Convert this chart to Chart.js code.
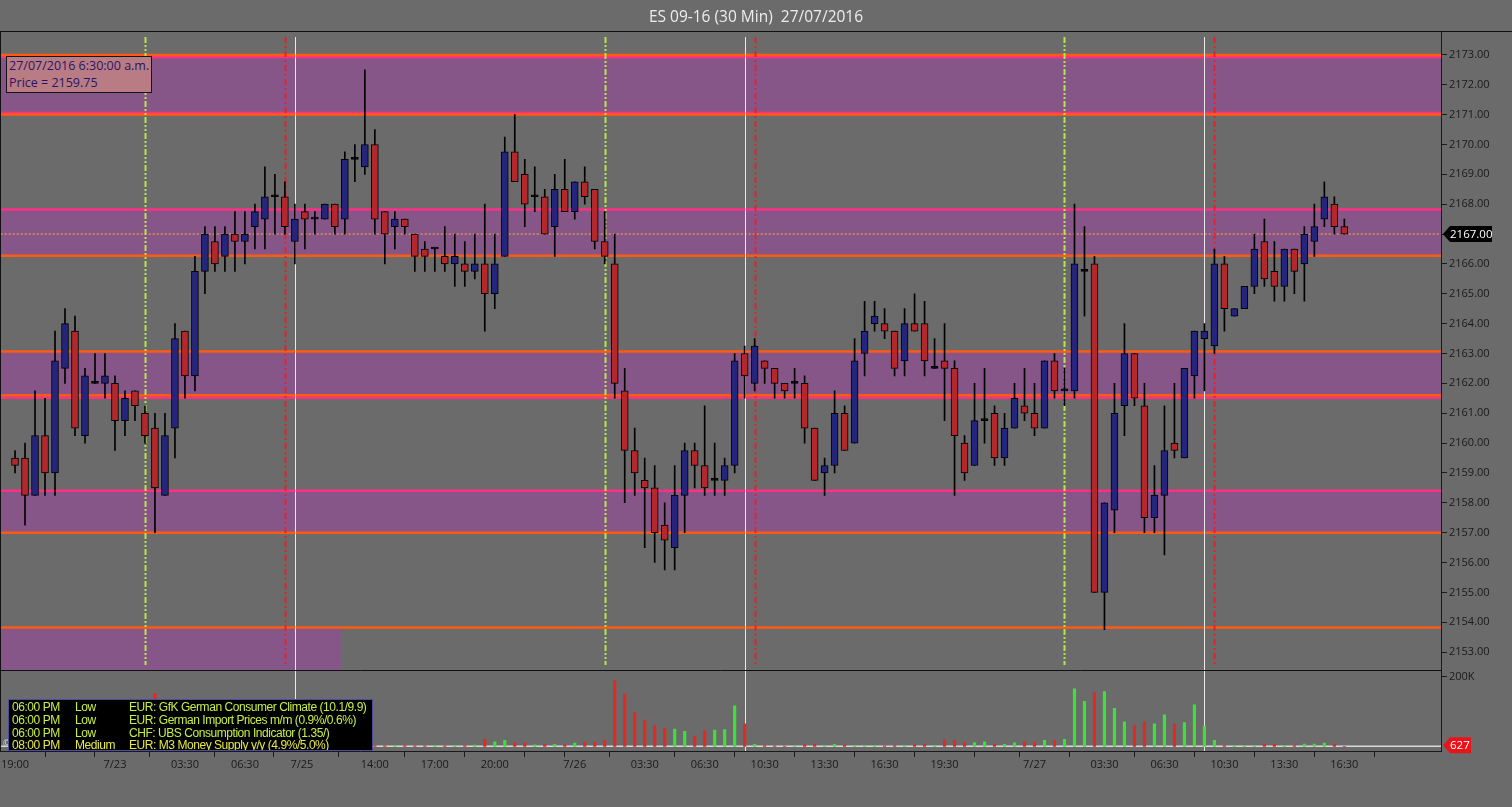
<!DOCTYPE html>
<html>
<head>
<meta charset="utf-8">
<title>ES 09-16 (30 Min) 27/07/2016</title>
<script src="https://cdn.jsdelivr.net/npm/chart.js@4.4.1/dist/chart.umd.min.js"></script>
<style>
    html, body { margin: 0; padding: 0; background: #6b6b6b; }
    #wrap { position: relative; width: 1512px; height: 807px; overflow: hidden; }
    #title {
        position: absolute; top: 5px; left: 0; width: 1512px; text-align: center;
        font: 15.5px "Open Sans", sans-serif; color: #ededed; white-space: pre;
    }
    #priceInfo {
        position: absolute; left: 6px; top: 56px; width: 146px; height: 37px; box-sizing: border-box;
        background: #b97b84; border: 1px solid #151515; color: #261766;
        font: 12.5px "Open Sans", sans-serif; line-height: 17px; padding: 0 0 0 2px; white-space: nowrap;
    }
    #events {
        position: absolute; left: 8px; top: 699px; width: 365px; height: 52px; box-sizing: border-box;
        background: #000; border: 1px solid #4b4ba0; overflow: hidden;
        font: 12px "Liberation Sans", Arial, sans-serif; color: #c8ee46; letter-spacing: -0.45px;
    }
    #events div { position: relative; height: 12.8px; line-height: 13px; white-space: nowrap; }
    #events span { position: absolute; top: 1px; }
    #events .t { left: 3px; } #events .i { left: 66px; } #events .e { left: 120px; }
    #copy { position: absolute; left: 2px; top: 738px; font: 10px "DejaVu Sans"; color: #cfcfcf; }
</style>
</head>
<body>
<div id="wrap">
    <canvas id="esChart" width="1512" height="807"></canvas>
    <div id="title">ES 09-16 (30 Min)  27/07/2016</div>
    <div id="priceInfo">27/07/2016 6:30:00 a.m.<br>Price = 2159.75</div>
    <span id="copy">©</span>
    <div id="events">
        <div><span class="t">06:00 PM</span><span class="i">Low</span><span class="e">EUR: GfK German Consumer Climate (10.1/9.9)</span></div>
        <div><span class="t">06:00 PM</span><span class="i">Low</span><span class="e">EUR: German Import Prices m/m (0.9%/0.6%)</span></div>
        <div><span class="t">06:00 PM</span><span class="i">Low</span><span class="e">CHF: UBS Consumption Indicator (1.35/)</span></div>
        <div style="color:#e6e84a"><span class="t">08:00 PM</span><span class="i">Medium</span><span class="e">EUR: M3 Money Supply y/y (4.9%/5.0%)</span></div>
    </div>
</div>
<script>
// 30 min bars, 22/07 19:00 -> 27/07 16:30
const opens = [
    2159.5, 2159.5, 2158.25, 2160.25, 2159.0, 2162.5, 2163.75, 2160.25, 2162.0, 2162.0,
    2162.0, 2160.75, 2161.75, 2161.0, 2160.5, 2158.25, 2160.5, 2163.75, 2162.25, 2165.75,
    2166.75, 2166.25, 2167.0, 2166.75, 2167.25, 2167.5, 2168.25, 2168.25, 2166.75, 2167.75,
    2167.5, 2167.5, 2168.0, 2167.5, 2169.5, 2169.25, 2170.0, 2167.75, 2167.25, 2167.5,
    2167.0, 2166.5, 2166.5, 2166.25, 2166.0, 2166.0, 2165.75, 2166.0, 2165.0, 2166.25,
    2169.75, 2169.0, 2168.25, 2168.25, 2167.25, 2168.5, 2167.75, 2168.75, 2168.5, 2166.75,
    2166.0, 2161.75, 2159.75, 2158.75, 2158.5, 2157.25, 2156.5, 2158.25, 2159.75, 2159.25,
    2158.75, 2158.75, 2159.25, 2163.0, 2162.0, 2162.75, 2162.5, 2162.0, 2162.0, 2162.0,
    2160.5, 2159.0, 2159.25, 2161.0, 2160.0, 2163.0, 2164.0, 2164.0, 2163.75, 2162.75,
    2164.0, 2164.0, 2162.5, 2162.75, 2162.5, 2160.0, 2159.25, 2160.75, 2161.0, 2159.5,
    2160.5, 2161.25, 2161.0, 2160.5, 2162.75, 2161.75, 2161.75, 2165.75, 2166.0, 2155.0,
    2157.75, 2161.25, 2163.0, 2161.25, 2157.5, 2158.25, 2160.0, 2159.5, 2162.25, 2163.5,
    2163.25, 2166.0, 2164.25, 2164.5, 2165.25, 2166.75, 2165.75, 2165.25, 2166.5, 2166.0,
    2166.75, 2167.5, 2168.0, 2167.25
];
const highs = [
    2159.75, 2160.0, 2161.75, 2161.5, 2163.75, 2164.5, 2164.25, 2162.5, 2163.0, 2163.0,
    2162.25, 2161.75, 2161.75, 2161.25, 2161.0, 2161.0, 2164.0, 2163.75, 2166.25, 2167.25,
    2167.25, 2167.25, 2167.75, 2167.75, 2168.0, 2169.25, 2169.0, 2168.75, 2168.0, 2168.0,
    2167.75, 2168.0, 2168.0, 2169.75, 2170.0, 2172.5, 2170.5, 2167.75, 2167.75, 2167.5,
    2167.0, 2166.75, 2166.5, 2167.25, 2167.0, 2166.75, 2167.0, 2168.0, 2167.0, 2170.25,
    2171.0, 2169.5, 2169.25, 2168.5, 2169.0, 2169.5, 2168.75, 2169.25, 2168.5, 2167.75,
    2167.0, 2162.5, 2160.5, 2159.5, 2159.25, 2158.0, 2159.25, 2160.0, 2160.0, 2161.25,
    2160.0, 2159.5, 2163.0, 2163.25, 2163.5, 2162.75, 2162.5, 2162.0, 2162.5, 2162.25,
    2160.5, 2159.5, 2161.75, 2161.25, 2163.5, 2164.75, 2164.75, 2164.5, 2163.75, 2164.5,
    2165.0, 2164.75, 2163.5, 2164.0, 2162.75, 2160.25, 2162.0, 2162.5, 2161.25, 2161.0,
    2162.0, 2162.5, 2162.0, 2162.75, 2163.0, 2162.5, 2168.0, 2167.25, 2166.25, 2158.0,
    2162.0, 2164.0, 2163.0, 2162.0, 2159.25, 2161.25, 2162.0, 2162.5, 2163.75, 2164.0,
    2166.5, 2166.25, 2164.5, 2165.25, 2167.0, 2167.5, 2166.75, 2166.5, 2166.5, 2167.25,
    2168.0, 2168.75, 2168.25, 2167.5
];
const lows = [
    2159.0, 2157.25, 2158.25, 2158.25, 2158.25, 2162.0, 2160.25, 2160.0, 2162.0, 2161.5,
    2159.75, 2160.25, 2160.75, 2160.0, 2157.0, 2158.25, 2159.5, 2161.5, 2161.75, 2165.0,
    2165.75, 2165.75, 2165.75, 2166.0, 2166.5, 2166.5, 2167.0, 2167.0, 2166.0, 2166.5,
    2167.0, 2167.5, 2167.0, 2167.0, 2168.75, 2169.0, 2167.0, 2166.0, 2166.5, 2167.0,
    2165.75, 2165.75, 2165.75, 2165.75, 2165.25, 2165.25, 2165.5, 2163.75, 2164.5, 2166.25,
    2168.75, 2167.25, 2167.75, 2167.0, 2166.25, 2167.75, 2167.5, 2168.0, 2166.5, 2166.0,
    2161.5, 2158.0, 2158.25, 2156.5, 2156.0, 2155.75, 2155.75, 2157.0, 2158.5, 2158.25,
    2158.25, 2158.25, 2159.0, 2161.5, 2161.75, 2162.0, 2161.5, 2161.5, 2161.5, 2160.0,
    2158.75, 2158.25, 2159.0, 2159.75, 2160.0, 2162.25, 2163.75, 2163.5, 2162.25, 2162.25,
    2163.75, 2162.25, 2162.5, 2160.75, 2158.25, 2158.75, 2159.25, 2160.0, 2159.25, 2159.25,
    2160.5, 2160.75, 2160.25, 2160.5, 2161.5, 2161.25, 2161.5, 2164.25, 2155.0, 2153.75,
    2157.0, 2160.25, 2161.25, 2157.0, 2157.0, 2156.25, 2159.5, 2159.5, 2161.5, 2161.75,
    2163.0, 2163.75, 2164.25, 2164.5, 2165.0, 2165.25, 2164.75, 2164.75, 2165.0, 2164.75,
    2166.25, 2167.25, 2167.0, 2167.0
];
const closes = [
    2159.25, 2158.25, 2160.25, 2159.0, 2162.75, 2164.0, 2160.5, 2162.25, 2162.0, 2162.25,
    2160.75, 2161.5, 2161.25, 2160.25, 2158.5, 2160.25, 2163.5, 2162.25, 2165.75, 2167.0,
    2166.0, 2167.0, 2166.75, 2167.0, 2167.75, 2168.25, 2168.25, 2167.25, 2167.5, 2167.5,
    2167.5, 2168.0, 2167.25, 2169.5, 2169.5, 2170.0, 2167.5, 2167.0, 2167.5, 2167.25,
    2166.25, 2166.25, 2166.5, 2166.0, 2166.25, 2165.75, 2166.0, 2165.0, 2166.0, 2169.75,
    2168.75, 2168.0, 2168.25, 2167.0, 2168.5, 2167.75, 2168.75, 2168.25, 2166.75, 2166.25,
    2162.0, 2159.75, 2159.0, 2158.5, 2157.0, 2156.75, 2158.25, 2159.75, 2159.25, 2158.5,
    2158.75, 2159.25, 2162.75, 2162.25, 2163.25, 2162.5, 2162.0, 2161.75, 2162.0, 2160.5,
    2158.75, 2159.25, 2161.0, 2159.75, 2162.75, 2163.75, 2164.25, 2163.75, 2162.5, 2164.0,
    2163.75, 2162.75, 2162.5, 2162.5, 2160.25, 2159.0, 2160.75, 2160.75, 2159.5, 2160.5,
    2161.5, 2161.0, 2160.5, 2162.75, 2161.75, 2161.75, 2166.0, 2165.75, 2155.0, 2158.0,
    2161.0, 2163.0, 2161.5, 2157.5, 2158.25, 2159.75, 2159.75, 2162.5, 2163.75, 2163.75,
    2166.0, 2164.5, 2164.5, 2165.25, 2166.5, 2165.5, 2165.25, 2166.5, 2165.75, 2167.0,
    2167.25, 2168.25, 2167.25, 2167.0
];
const volumes = [
    6000, 5000, 8000, 9000, 12000, 10000, 7000, 6000, 8000, 11000,
    14000, 18000, 12000, 15000, 153000, 110000, 85000, 75000, 70000, 60000,
    50000, 45000, 40000, 45000, 50000, 55000, 80000, 20000, 15000, 8000,
    6000, 5000, 4000, 4000, 3000, 3000, 3000, 2000, 2000, 3000,
    2000, 2000, 3000, 2000, 2000, 3000, 4000, 21000, 13500, 18000,
    11600, 9700, 5000, 6000, 6000, 5000, 10000, 12500, 12500, 18000,
    190000, 151000, 98000, 76000, 60000, 52000, 50000, 44000, 30000, 46000,
    47000, 49000, 117000, 65000, 6000, 3000, 2000, 1500, 2000, 5000,
    6000, 3000, 6000, 4000, 3000, 3000, 3000, 2000, 3000, 3000,
    5000, 6000, 3000, 19000, 18000, 11600, 11600, 13500, 7000, 6000,
    10600, 13500, 12500, 18000, 17000, 21000, 166000, 130000, 156000, 158000,
    110000, 71000, 60000, 71000, 65000, 91000, 65000, 69000, 120000, 59000,
    18000, 3000, 3000, 2000, 3000, 7000, 7000, 3000, 3000, 7000,
    7000, 10000, 7000, 627
];

// time axis labels (bar index -> text)
const tickPos  = [0, 6, 10, 17, 23, 28.7, 36, 42, 48, 54, 56, 63, 69, 75, 81, 87, 93, 99, 102, 109, 115, 121, 127, 133];
const tickText = ['19:00', '', '7/23', '03:30', '06:30', '7/25', '14:00', '17:00', '20:00', '', '7/26', '03:30',
                  '06:30', '10:30', '13:30', '16:30', '19:30', '', '7/27', '03:30', '06:30', '10:30', '13:30', '16:30'];
const priceTicks = [2153, 2154, 2155, 2156, 2157, 2158, 2159, 2160, 2161, 2162, 2163,
                    2164, 2165, 2166, 2167, 2168, 2169, 2170, 2171, 2172, 2173];

// drawn zones and levels
const zones = [[2171.0, 2173.0], [2166.27, 2167.8], [2161.57, 2163.07], [2157.0, 2158.38]];
const oldZone = [2152.4, 2153.82];
const oldZoneEnd = 32.6;
const orangeLevels = [2173.0, 2171.0, 2166.27, 2163.07, 2161.6, 2157.0, 2153.82];
const pinkLevels = [2172.93, 2171.05, 2167.82, 2161.52, 2158.4];
const openMarks = [13, 59, 105];
const closeMarks = [27, 74, 120];
const dayMarks = [28, 73, 119];
const lastPrice = 2167.0;
const lastVolume = 627;

const UP = '#24257c', DOWN = '#b3282a';
const bodyColors = opens.map((o, i) => closes[i] > o ? UP : (closes[i] < o ? DOWN : '#000'));
const volColors = opens.map((o, i) => closes[i] >= o ? '#3ee03a' : '#e02a24');

const bodies = opens.map((o, i) => ({ x: i, y: [o, closes[i]] }));
const wicks = lows.map((l, i) => ({ x: i, y: [l, highs[i]] }));
const vols = volumes.map((v, i) => ({ x: i, y: v }));

const axisFont = { family: 'Open Sans', size: 11 };

const overlay = {
    id: 'overlay',
    beforeDatasetsDraw(chart) {
        const { ctx, scales: { x, y, yv } } = chart;
        const left = x.left, right = x.right;
        ctx.save();
        ctx.beginPath();
        ctx.rect(left, y.top, right - left, y.bottom - y.top);
        ctx.clip();

        ctx.fillStyle = '#875689';
        zones.forEach(z => {
            const a = y.getPixelForValue(z[1]), b = y.getPixelForValue(z[0]);
            ctx.fillRect(left, a, right - left, b - a);
        });
        const oz = y.getPixelForValue(oldZone[1]);
        ctx.fillRect(left, oz, x.getPixelForValue(oldZoneEnd) - left, y.getPixelForValue(oldZone[0]) - oz);

        function hline(p, color, w) {
            const py = y.getPixelForValue(p);
            ctx.strokeStyle = color;
            ctx.lineWidth = w;
            ctx.beginPath();
            ctx.moveTo(left, py);
            ctx.lineTo(right, py);
            ctx.stroke();
        }
        pinkLevels.forEach(p => hline(p, '#ff2f86', 2.5));
        orangeLevels.forEach(p => hline(p, '#ff5a12', 2.5));

        // last price dotted
        ctx.setLineDash([2, 2]);
        hline(lastPrice, '#f0a040', 1.2);

        function vline(i, color, dash, top, bottom, w) {
            const px = Math.round(x.getPixelForValue(i)) + 0.5;
            ctx.strokeStyle = color;
            ctx.lineWidth = w;
            ctx.setLineDash(dash);
            ctx.beginPath();
            ctx.moveTo(px, top);
            ctx.lineTo(px, bottom);
            ctx.stroke();
        }
        openMarks.forEach(i => vline(i, '#b9e44a', [6, 2, 2, 2, 2, 2], y.top + 6, y.bottom - 5, 2));
        closeMarks.forEach(i => vline(i, '#e3222c', [6, 3, 2, 3], y.top + 6, y.bottom - 5, 2));
        ctx.restore();

        ctx.save();
        ctx.strokeStyle = '#e8e8e8';
        ctx.lineWidth = 1;
        dayMarks.forEach(i => {
            const px = Math.round(x.getPixelForValue(i)) + 0.5;
            ctx.beginPath();
            ctx.moveTo(px, y.top + 6);
            ctx.lineTo(px, yv.bottom);
            ctx.stroke();
        });
        const vy = yv.getPixelForValue(lastVolume);
        ctx.strokeStyle = '#d8d8d8';
        ctx.lineWidth = 1.5;
        ctx.beginPath();
        ctx.moveTo(left, vy);
        ctx.lineTo(right, vy);
        ctx.stroke();
        ctx.restore();
    },
    afterDraw(chart) {
        const { ctx, scales: { x, y, yv } } = chart;
        ctx.save();
        ctx.strokeStyle = '#111';
        ctx.lineWidth = 1;
        ctx.beginPath();
        ctx.moveTo(0, y.top + 0.5);
        ctx.lineTo(1512, y.top + 0.5);
        ctx.moveTo(0.5, y.top);
        ctx.lineTo(0.5, yv.bottom);
        ctx.moveTo(0, y.bottom + 0.5);
        ctx.lineTo(x.right, y.bottom + 0.5);
        ctx.stroke();

        // last price / last volume tags
        function tag(py, w, fill, text) {
            const x0 = x.right + 2;
            ctx.fillStyle = fill;
            ctx.beginPath();
            ctx.moveTo(x0, py);
            ctx.lineTo(x0 + 7, py - 8);
            ctx.lineTo(x0 + w, py - 8);
            ctx.lineTo(x0 + w, py + 8);
            ctx.lineTo(x0 + 7, py + 8);
            ctx.closePath();
            ctx.fill();
            ctx.fillStyle = '#fff';
            ctx.font = '11.5px "Open Sans"';
            ctx.textBaseline = 'middle';
            ctx.textAlign = 'left';
            ctx.fillText(text, x0 + 7, py + 0.5);
        }
        tag(y.getPixelForValue(lastPrice), 49, '#000', lastPrice.toFixed(2));
        tag(yv.getPixelForValue(lastVolume) - 1, 28, '#e8141a', String(lastVolume));
        ctx.restore();
    }
};

new Chart(document.getElementById('esChart'), {
    type: 'bar',
    data: {
        datasets: [
            { data: bodies, backgroundColor: bodyColors, borderColor: '#000', borderWidth: 1, borderSkipped: false,
              barThickness: 7, minBarLength: 2, grouped: false, order: 1, yAxisID: 'y' },
            { data: wicks, backgroundColor: '#000', borderWidth: 0, barThickness: 1, grouped: false, order: 2, yAxisID: 'y' },
            { data: vols, backgroundColor: volColors, borderWidth: 0, barThickness: 2.5, grouped: false, order: 3, yAxisID: 'yv' }
        ]
    },
    options: {
        responsive: false,
        animation: false,
        devicePixelRatio: 1,
        layout: { padding: { top: 31, left: 0, right: 0, bottom: 0 } },
        plugins: { legend: { display: false }, tooltip: { enabled: false } },
        scales: {
            x: {
                type: 'linear', min: -1.43, max: 142.67, offset: false,
                afterBuildTicks: s => { s.ticks = tickPos.map(v => ({ value: v })); },
                afterFit: s => { s.height = 56; },
                ticks: { autoSkip: false, maxRotation: 0, color: '#1a1a1a', font: axisFont, padding: 1,
                         callback: (v, i) => tickText[i] },
                grid: { drawOnChartArea: false, drawTicks: true, tickLength: 6, color: '#1a1a1a' },
                border: { display: true, color: '#1a1a1a' }
            },
            y: {
                position: 'right', stack: 'panes', stackWeight: 639,
                min: 2152.4, max: 2173.8,
                afterBuildTicks: s => { s.ticks = priceTicks.map(v => ({ value: v })); },
                afterFit: s => { s.width = 71; },
                ticks: { color: '#1a1a1a', font: axisFont, padding: 2, callback: v => v.toFixed(2) },
                grid: { drawOnChartArea: false, drawTicks: true, tickLength: 6, color: '#1a1a1a' },
                border: { display: true, color: '#1a1a1a' }
            },
            yv: {
                position: 'right', stack: 'panes', stackWeight: 81,
                min: -12900, max: 220100,
                afterBuildTicks: s => { s.ticks = [{ value: 200000 }]; },
                afterFit: s => { s.width = 71; },
                ticks: { color: '#1a1a1a', font: axisFont, padding: 2, callback: () => '200K' },
                grid: { drawOnChartArea: false, drawTicks: true, tickLength: 6, color: '#1a1a1a' },
                border: { display: true, color: '#1a1a1a' }
            }
        }
    },
    plugins: [overlay]
});
</script>
</body>
</html>
